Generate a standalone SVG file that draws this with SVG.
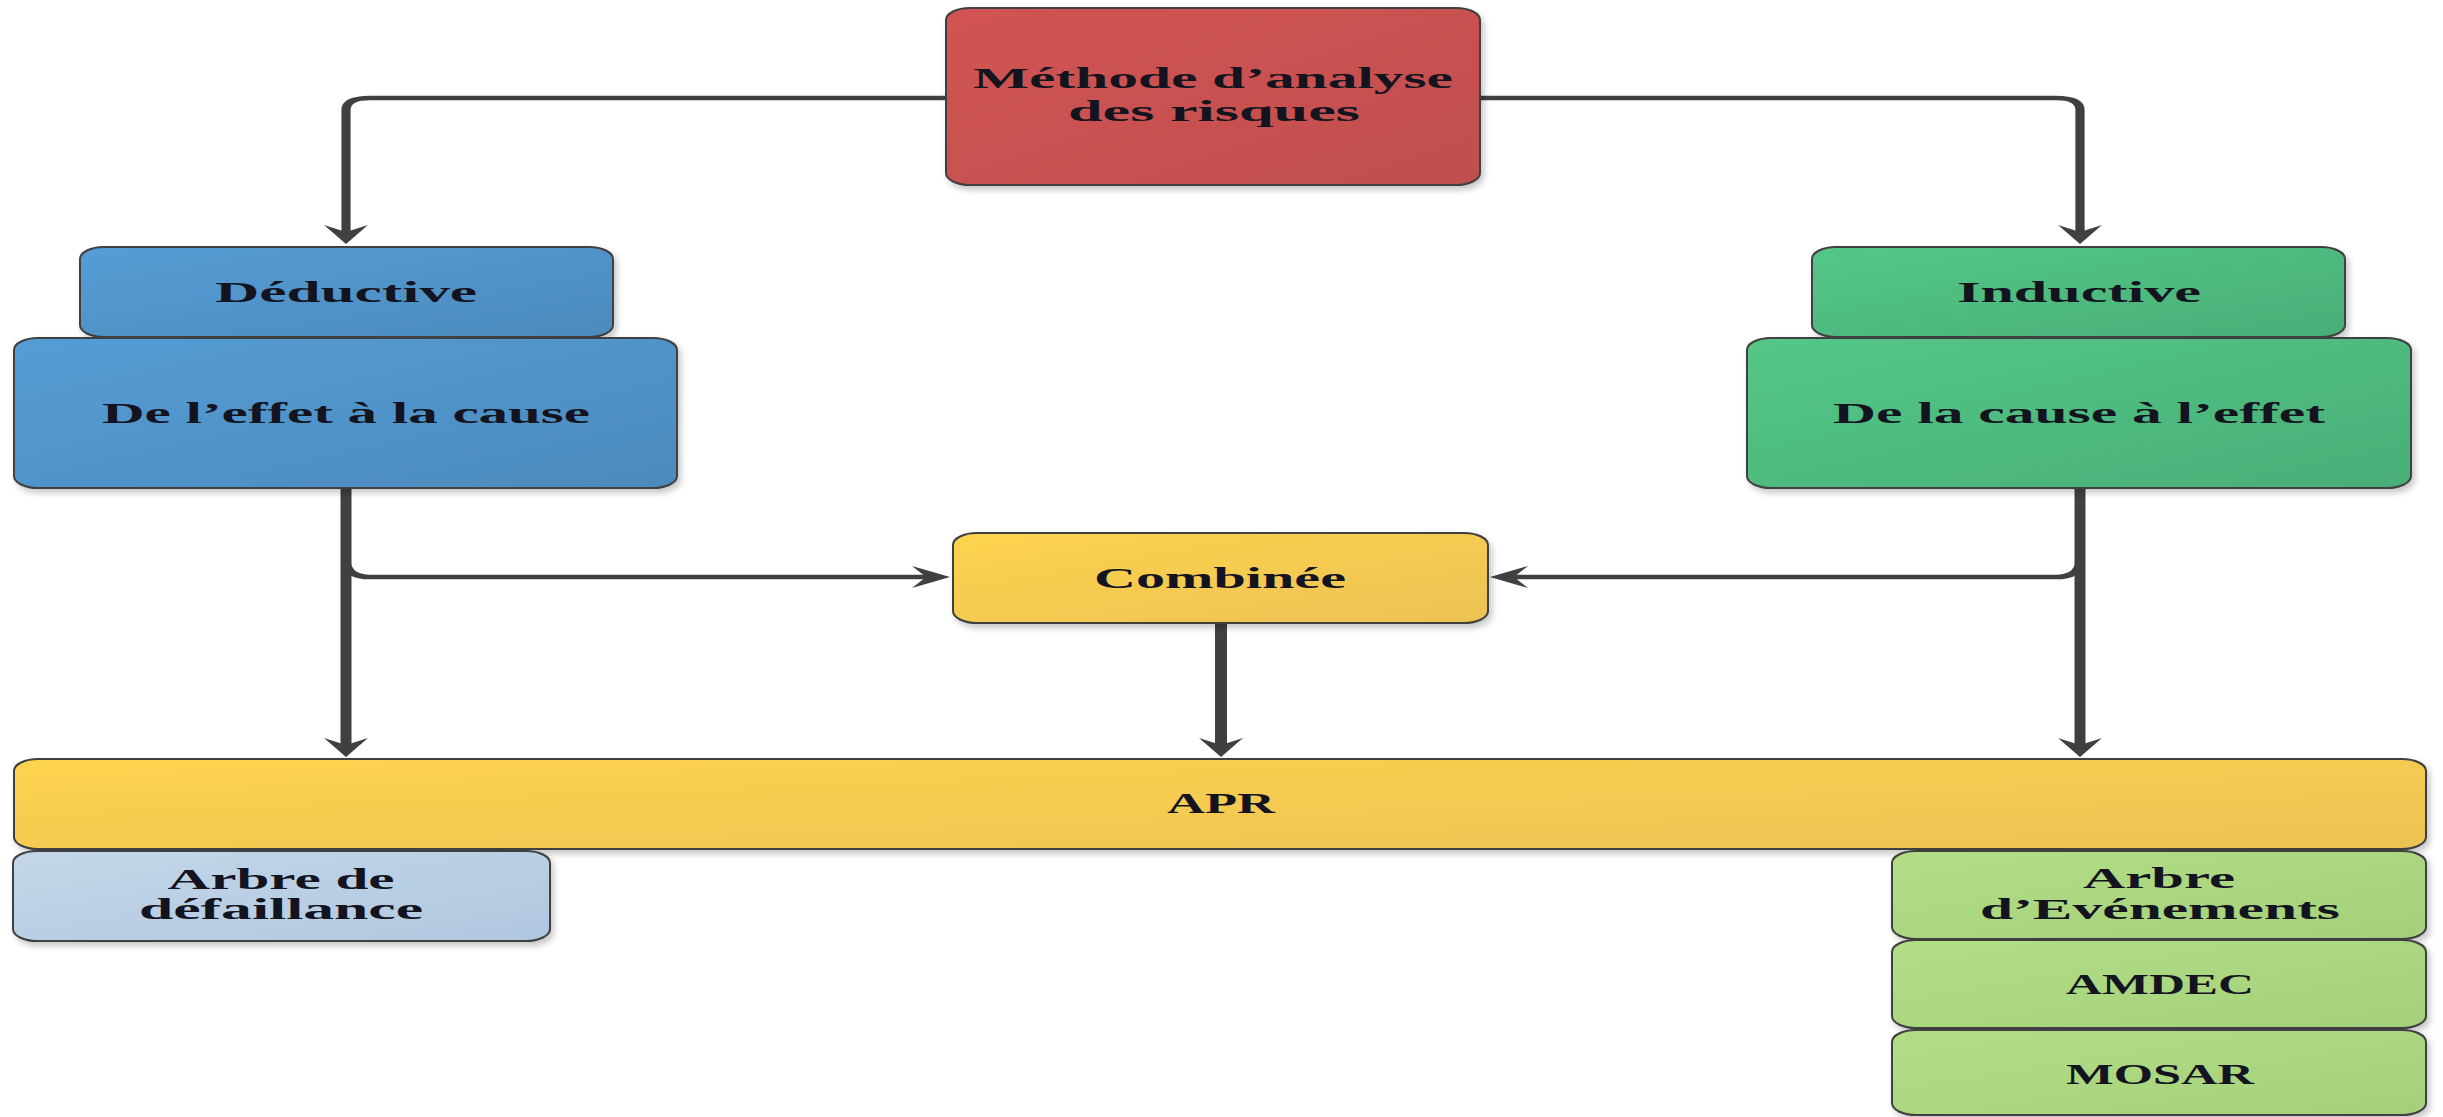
<svg xmlns="http://www.w3.org/2000/svg" width="2443" height="1117" viewBox="0 0 2443 1117">
  <defs>
    <linearGradient id="gRed" x1="0" y1="0" x2="1" y2="1">
      <stop offset="0" stop-color="#D25353"/>
      <stop offset="1" stop-color="#C04F4E"/>
    </linearGradient>
    <linearGradient id="gBlue" x1="0" y1="0" x2="1" y2="1">
      <stop offset="0" stop-color="#549DD6"/>
      <stop offset="1" stop-color="#4D8ABC"/>
    </linearGradient>
    <linearGradient id="gGreen" x1="0" y1="0" x2="1" y2="1">
      <stop offset="0" stop-color="#54C787"/>
      <stop offset="1" stop-color="#49AE77"/>
    </linearGradient>
    <linearGradient id="gYellow" x1="0" y1="0" x2="1" y2="1">
      <stop offset="0" stop-color="#FDD34F"/>
      <stop offset="1" stop-color="#ECC253"/>
    </linearGradient>
    <linearGradient id="gLBlue" x1="0" y1="0" x2="1" y2="1">
      <stop offset="0" stop-color="#C4D7EA"/>
      <stop offset="1" stop-color="#AFC7DF"/>
    </linearGradient>
    <linearGradient id="gLGreen" x1="0" y1="0" x2="1" y2="1">
      <stop offset="0" stop-color="#B3DE88"/>
      <stop offset="1" stop-color="#A5D07A"/>
    </linearGradient>
    <filter id="shadow" x="-5%" y="-10%" width="115%" height="130%">
      <feDropShadow dx="3" dy="4" stdDeviation="3" flood-color="#000" flood-opacity="0.22"/>
    </filter>
    <marker id="arrow" markerUnits="userSpaceOnUse" markerWidth="22" markerHeight="26" viewBox="0 -13 22 26" refX="7" refY="0" orient="auto">
      <path d="M0,-11 L19,0 L0,11 L7,0 Z" fill="#404040"/>
    </marker>
  </defs>
  <style>
    .box { stroke: #404040; stroke-width: 2; filter: url(#shadow); }
    .lbl { font-family: "Liberation Serif", "Times New Roman", serif; font-weight: bold; font-size: 30px; fill: #141420; text-anchor: middle; }
    .con { fill: none; stroke: #404040; stroke-linecap: butt; stroke-linejoin: round; }
  </style>

  <g id="connectors">
    <g transform="scale(2,1)">
      <path class="con" d="M473,98 H185 Q173,98 173,110 V232" stroke-width="4.6" marker-end="url(#arrow)"/>
      <path class="con" d="M740,98 H1028 Q1040,98 1040,110 V232" stroke-width="4.6" marker-end="url(#arrow)"/>
      <path class="con" d="M173,489 V745" stroke-width="5.5" marker-end="url(#arrow)"/>
      <path class="con" d="M173,562 Q174,577 185,577 H463" stroke-width="4.6" marker-end="url(#arrow)"/>
      <path class="con" d="M1040,489 V745" stroke-width="5.5" marker-end="url(#arrow)"/>
      <path class="con" d="M1040,562 Q1039,577 1028,577 H757" stroke-width="4.6" marker-end="url(#arrow)"/>
      <path class="con" d="M610.5,624 V745" stroke-width="6" marker-end="url(#arrow)"/>
    </g>
  </g>

  <g id="methode">
    <rect class="box" x="946" y="8" width="534" height="177" rx="24" ry="12" fill="url(#gRed)"/>
    <text class="lbl" x="1213" y="88" textLength="480" lengthAdjust="spacingAndGlyphs">Méthode d’analyse</text>
    <text class="lbl" x="1214" y="121" textLength="292" lengthAdjust="spacingAndGlyphs">des risques</text>
  </g>

  <g id="deductive">
    <rect class="box" x="80" y="247" width="533" height="90" rx="24" ry="12" fill="url(#gBlue)"/>
    <text class="lbl" x="346" y="302" textLength="262" lengthAdjust="spacingAndGlyphs">Déductive</text>
  </g>

  <g id="effet-cause">
    <rect class="box" x="14" y="338" width="663" height="150" rx="24" ry="12" fill="url(#gBlue)"/>
    <text class="lbl" x="346" y="423" textLength="488" lengthAdjust="spacingAndGlyphs">De l’effet à la cause</text>
  </g>

  <g id="inductive">
    <rect class="box" x="1812" y="247" width="533" height="90" rx="24" ry="12" fill="url(#gGreen)"/>
    <text class="lbl" x="2079" y="302" textLength="244" lengthAdjust="spacingAndGlyphs">Inductive</text>
  </g>

  <g id="cause-effet">
    <rect class="box" x="1747" y="338" width="664" height="150" rx="24" ry="12" fill="url(#gGreen)"/>
    <text class="lbl" x="2079" y="423" textLength="492" lengthAdjust="spacingAndGlyphs">De la cause à l’effet</text>
  </g>

  <g id="combinee">
    <rect class="box" x="953" y="533" width="535" height="90" rx="24" ry="12" fill="url(#gYellow)"/>
    <text class="lbl" x="1220" y="588" textLength="252" lengthAdjust="spacingAndGlyphs">Combinée</text>
  </g>

  <g id="apr">
    <rect class="box" x="14" y="759" width="2412" height="90" rx="24" ry="12" fill="url(#gYellow)"/>
    <text class="lbl" x="1221" y="813" textLength="108" lengthAdjust="spacingAndGlyphs">APR</text>
  </g>

  <g id="arbre-defaillance">
    <rect class="box" x="13" y="851" width="537" height="90" rx="24" ry="12" fill="url(#gLBlue)"/>
    <text class="lbl" x="281" y="889" textLength="227" lengthAdjust="spacingAndGlyphs">Arbre de</text>
    <text class="lbl" x="281" y="919" textLength="284" lengthAdjust="spacingAndGlyphs">défaillance</text>
  </g>

  <g id="arbre-evenements">
    <rect class="box" x="1892" y="851" width="534" height="88" rx="24" ry="12" fill="url(#gLGreen)"/>
    <text class="lbl" x="2159" y="888" textLength="152" lengthAdjust="spacingAndGlyphs">Arbre</text>
    <text class="lbl" x="2160" y="919" textLength="360" lengthAdjust="spacingAndGlyphs">d’Evénements</text>
  </g>

  <g id="amdec">
    <rect class="box" x="1892" y="940" width="534" height="88" rx="24" ry="12" fill="url(#gLGreen)"/>
    <text class="lbl" x="2160" y="994" textLength="188" lengthAdjust="spacingAndGlyphs">AMDEC</text>
  </g>

  <g id="mosar">
    <rect class="box" x="1892" y="1030" width="534" height="85" rx="24" ry="12" fill="url(#gLGreen)"/>
    <text class="lbl" x="2160" y="1084" textLength="188" lengthAdjust="spacingAndGlyphs">MOSAR</text>
  </g>
</svg>
